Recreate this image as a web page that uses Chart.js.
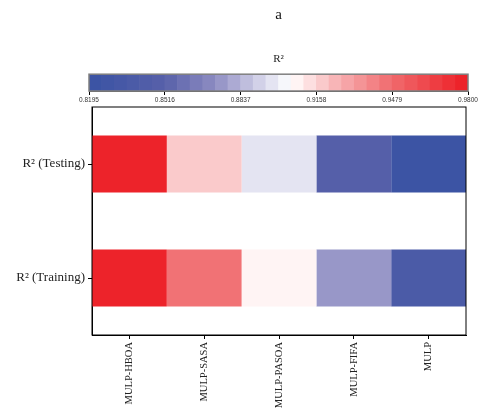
<!DOCTYPE html>
<html>
<head>
<meta charset="utf-8">
<script src="https://cdn.jsdelivr.net/npm/chart.js@4"></script>
<style>
  html, body { margin: 0; padding: 0; background: #fff; }
  #wrap { position: relative; width: 479px; height: 408px; }
  #wrap canvas { position: absolute; left: 0; top: 0; }
</style>
</head>
<body>
<div id="wrap">
  <canvas id="heat" width="479" height="408"></canvas>
  <canvas id="bar" width="479" height="408"></canvas>
</div>
<script>
// Data
const models = ["MULP-HBOA", "MULP-SASA", "MULP-PASOA", "MULP-FIFA", "MULP"]
const rows = ["R\u00b2 (Testing)", "R\u00b2 (Training)"]
const r2Testing = [0.977, 0.918, 0.896, 0.851, 0.822]
const r2Training = [0.980, 0.943, 0.906, 0.877, 0.836]

// colour scale
const scaleMin = 0.8195
const scaleMax = 0.98
const scaleTicks = [0.8195, 0.8516, 0.8837, 0.9158, 0.9479, 0.98]
const levels = 30

const stops = [
  [0.00, [57, 83, 164]],
  [0.20, [87, 96, 169]],
  [0.33, [141, 139, 194]],
  [0.45, [210, 209, 232]],
  [0.52, [248, 249, 252]],
  [0.55, [255, 244, 244]],
  [0.65, [248, 181, 183]],
  [0.80, [240, 106, 109]],
  [1.00, [237, 28, 36]],
]

function colormap(t) {
  for (let i = 1; i < stops.length; i++) {
    if (t <= stops[i][0]) {
      const [t0, c0] = stops[i - 1]
      const [t1, c1] = stops[i]
      const f = (t - t0) / (t1 - t0)
      const c = c0.map((v, k) => Math.round(v + (c1[k] - v) * f))
      return `rgb(${c[0]}, ${c[1]}, ${c[2]})`
    }
  }
  const c = stops[stops.length - 1][1]
  return `rgb(${c[0]}, ${c[1]}, ${c[2]})`
}

const binW = (scaleMax - scaleMin) / levels
const bins = []
for (let i = 0; i < levels; i++) {
  bins.push({ lo: scaleMin + i * binW, hi: scaleMin + (i + 1) * binW, color: colormap((i + 0.5) / levels) })
}

function cellColor(v) {
  let i = Math.floor((v - scaleMin) / binW)
  i = Math.max(0, Math.min(levels - 1, i))
  return bins[i].color
}

// box around the chart area
const frame = {
  id: "frame",
  afterDraw(chart, args, opts) {
    const { ctx, chartArea: a } = chart
    ctx.save()
    ctx.strokeStyle = opts.color
    ctx.lineWidth = opts.width
    ctx.strokeRect(a.left, a.top, a.right - a.left, a.bottom - a.top)
    ctx.restore()
  },
}

// Heatmap: one stacked unit bar per model, coloured by its R2
new Chart(document.getElementById("heat"), {
  type: "bar",
  data: {
    labels: rows,
    datasets: models.map((m, i) => ({
      label: m,
      data: rows.map(() => 1),
      backgroundColor: [cellColor(r2Testing[i]), cellColor(r2Training[i])],
      borderWidth: 0,
      barPercentage: 1,
      categoryPercentage: 0.5,
    })),
  },
  options: {
    indexAxis: "y",
    responsive: false,
    animation: false,
    layout: { padding: { top: 107, right: 13, left: 0, bottom: 0 } },
    plugins: {
      legend: { display: false },
      tooltip: { enabled: false },
      frame: { color: "#000", width: 1 },
    },
    scales: {
      x: {
        type: "linear",
        stacked: true,
        min: 0,
        max: models.length,
        afterBuildTicks: (s) => { s.ticks = models.map((m, i) => ({ value: i + 0.5 })) },
        afterFit: (s) => { s.height = 73 },
        ticks: {
          autoSkip: false,
          minRotation: 90,
          maxRotation: 90,
          padding: 3,
          color: "#222",
          font: { family: "Liberation Serif", size: 10.5 },
          callback: (v, i) => models[i],
        },
        grid: { drawOnChartArea: false, tickLength: 4, color: "#000" },
        border: { color: "#000" },
      },
      y: {
        stacked: true,
        afterFit: (s) => { s.width = 92 },
        ticks: {
          padding: 3,
          color: "#222",
          font: { family: "Liberation Serif", size: 13 },
        },
        grid: { drawOnChartArea: false, offset: false, tickLength: 4, color: "#000" },
        border: { color: "#000" },
      },
    },
  },
  plugins: [frame],
})

// Colour bar
new Chart(document.getElementById("bar"), {
  type: "bar",
  data: {
    labels: ["R\u00b2"],
    datasets: [{
      data: bins.map((b) => ({ x: [b.lo, b.hi], y: "R\u00b2" })),
      backgroundColor: bins.map((b) => b.color),
      borderWidth: 0,
      barPercentage: 1,
      categoryPercentage: 1,
    }],
  },
  options: {
    indexAxis: "y",
    responsive: false,
    animation: false,
    layout: { padding: { top: 0, left: 89, right: 11, bottom: 305 } },
    plugins: {
      legend: { display: false },
      tooltip: { enabled: false },
      title: {
        display: true,
        text: "a",
        color: "#111",
        font: { family: "Liberation Serif", size: 15, weight: "normal" },
        padding: { top: 6, bottom: 20 },
      },
      subtitle: {
        display: true,
        text: "R\u00b2",
        color: "#222",
        font: { family: "Liberation Serif", size: 11 },
        padding: { top: 9, bottom: 8 },
      },
      frame: { color: "#7f7f7f", width: 1.5 },
    },
    scales: {
      x: {
        type: "linear",
        min: scaleMin,
        max: scaleMax,
        afterBuildTicks: (s) => { s.ticks = scaleTicks.map((v) => ({ value: v })) },
        afterFit: (s) => { s.height = 12 },
        ticks: {
          autoSkip: false,
          maxRotation: 0,
          padding: 1,
          color: "#333",
          font: { family: "Liberation Sans", size: 6.5 },
          callback: (v) => v.toFixed(4),
        },
        grid: { drawOnChartArea: false, tickLength: 4, color: "#000" },
        border: { color: "#555" },
      },
      y: { display: false },
    },
  },
  plugins: [frame],
})
</script>
</body>
</html>
